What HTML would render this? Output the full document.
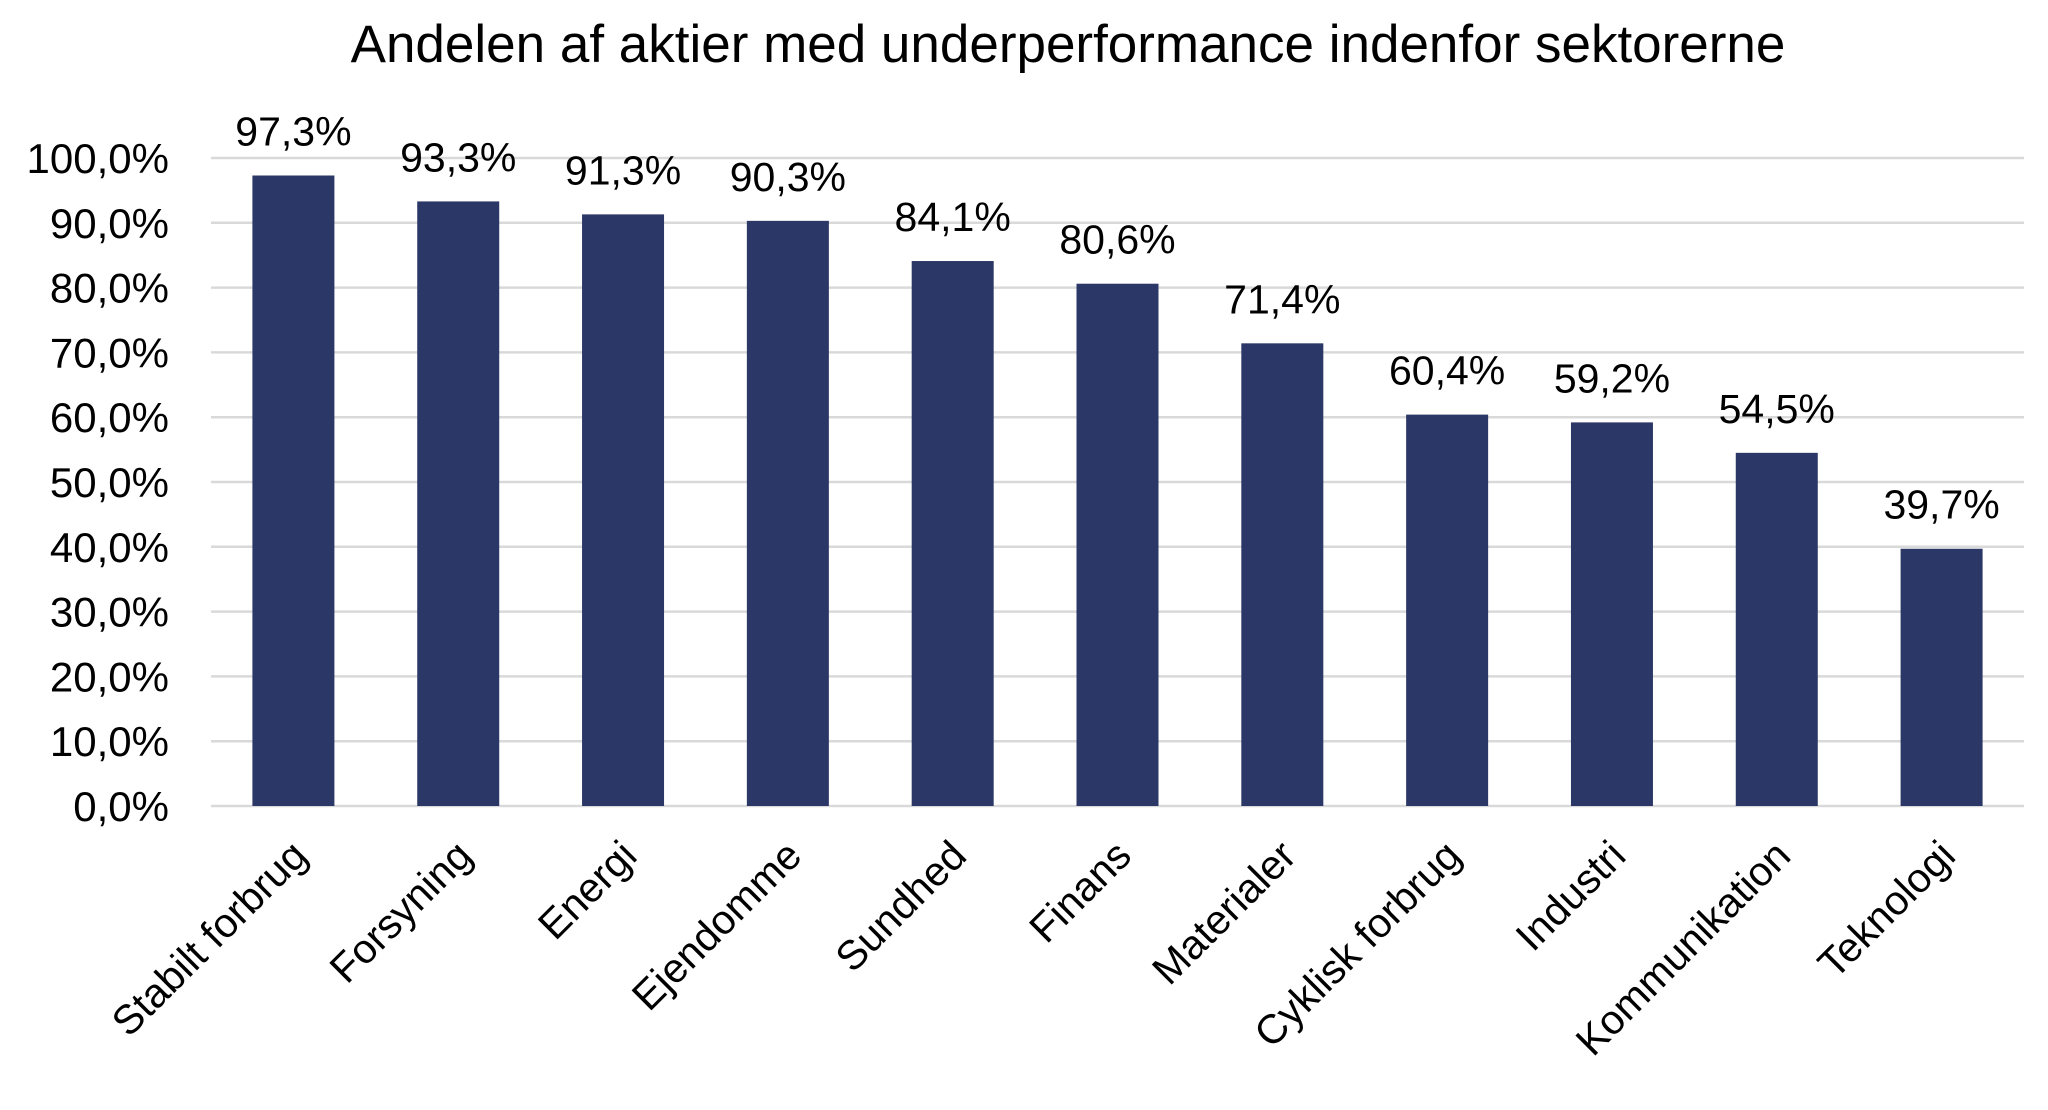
<!DOCTYPE html>
<html><head><meta charset="utf-8"><style>
html,body{margin:0;padding:0;background:#fff;}
svg{display:block;font-family:"Liberation Sans",sans-serif;}
</style></head><body>
<svg id="chart" width="2048" height="1110" viewBox="0 0 2048 1110">
<text x="1068" y="62" font-size="53" text-anchor="middle" fill="#000">Andelen af aktier med underperformance indenfor sektorerne</text>
<g id="grid"></g>
<g id="yticks"></g>
<g id="bars"></g>
<g id="labels"></g>
<g id="xticks"></g>
</svg>
<script>
const categories=["Stabilt forbrug","Forsyning","Energi","Ejendomme","Sundhed","Finans","Materialer","Cyklisk forbrug","Industri","Kommunikation","Teknologi"];
const values=[97.3,93.3,91.3,90.3,84.1,80.6,71.4,60.4,59.2,54.5,39.7];
const valueLabels=["97,3%","93,3%","91,3%","90,3%","84,1%","80,6%","71,4%","60,4%","59,2%","54,5%","39,7%"];
const yTicks=[0,10,20,30,40,50,60,70,80,90,100];
const yTickLabels=["0,0%","10,0%","20,0%","30,0%","40,0%","50,0%","60,0%","70,0%","80,0%","90,0%","100,0%"];

const NS="http://www.w3.org/2000/svg";
const plotL=211,plotR=2024,y0=806,y100=158;
const yScale=v=>y0-(v/100)*(y0-y100);
const step=(plotR-plotL)/categories.length;
const xCenter=i=>plotL+step*(i+0.5);
const barW=82;
function mk(tag,attrs,parent){const e=document.createElementNS(NS,tag);for(const k in attrs)e.setAttribute(k,attrs[k]);parent.appendChild(e);return e;}
const grid=document.getElementById('grid'),yt=document.getElementById('yticks'),bars=document.getElementById('bars'),lab=document.getElementById('labels'),xt=document.getElementById('xticks');
yTicks.forEach((t,i)=>{
  const y=yScale(t);
  const l=mk('line',{x1:plotL,x2:plotR,y1:y,y2:y,stroke:'#d9d9d9','stroke-width':2.5},grid);
  
  
  const tx=mk('text',{x:169,y:y+15,'font-size':42,'text-anchor':'end',fill:'#000'},yt);
  tx.textContent=yTickLabels[i];
  
  
});
values.forEach((v,i)=>{
  const cx=xCenter(i),y=yScale(v);
  const r=mk('rect',{x:cx-barW/2,y:y,width:barW,height:y0-y,fill:'#2b3766'},bars);
  
  
  const t=mk('text',{x:cx,y:y-30,'font-size':41,'text-anchor':'middle',fill:'#000'},lab);
  t.textContent=valueLabels[i];
  
  
  const c=mk('text',{x:0,y:0,'font-size':41,'text-anchor':'end',fill:'#000',transform:`translate(${cx+16},${y0+52}) rotate(-45)`},xt);
  c.textContent=categories[i];
  
  
});
</script>
</body></html>
